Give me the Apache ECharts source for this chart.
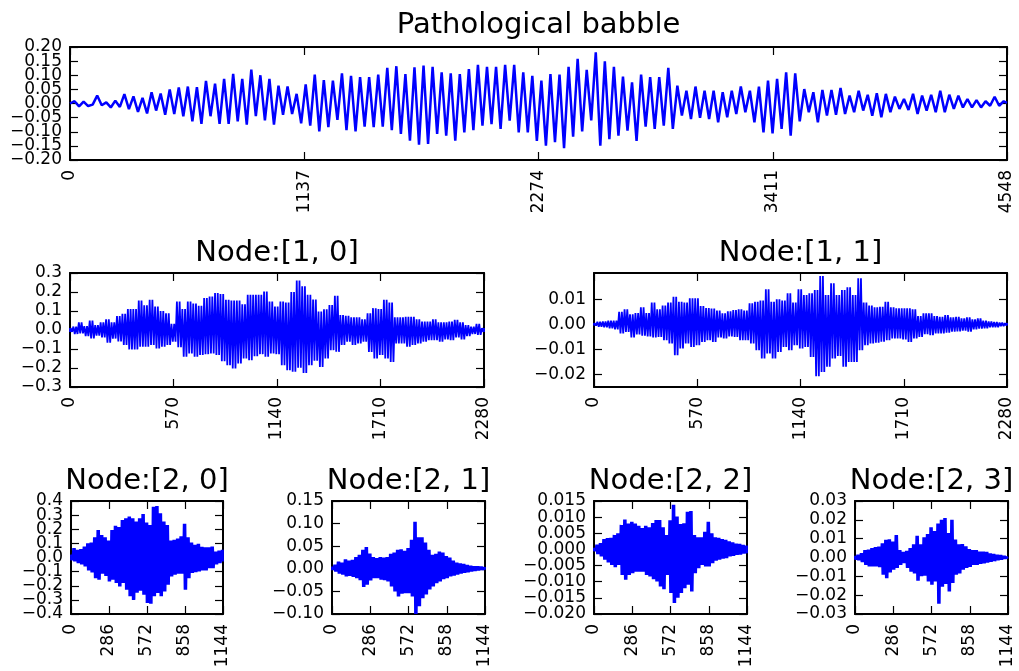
<!DOCTYPE html>
<html>
<head>
<meta charset="utf-8">
<script src="https://cdn.jsdelivr.net/npm/echarts@6/dist/echarts.min.js"></script>
<style>
  html, body { margin: 0; padding: 0; background: #fff; }
  #chart { width: 1019px; height: 671px; }
</style>
</head>
<body>
<div id="chart"></div>
<script>
// ---- data ----
var titles = ['Pathological babble', 'Node:[1, 0]', 'Node:[1, 1]',
              'Node:[2, 0]', 'Node:[2, 1]', 'Node:[2, 2]', 'Node:[2, 3]'];
var lengths = [4548, 2280, 2280, 1144, 1144, 1144, 1144];

// top signal: successive peaks / troughs, one every 22 samples
var babbleStep = 22;
var babble = [
  0.000, 0.008, -0.010, 0.007, -0.009, -0.004, 0.028, -0.006, 0.004, -0.014, 0.010, -0.012,
  0.033, -0.020, 0.025, -0.030, 0.020, -0.035, 0.040, -0.025, 0.035, -0.040,
  0.050, -0.037, 0.057, -0.045, 0.060, -0.063, 0.058, -0.072, 0.080, -0.045, 0.070, -0.072,
  0.087, -0.072, 0.105, -0.063, 0.087, -0.075, 0.120, -0.045, 0.100, -0.060, 0.087, -0.075,
  0.063, -0.040, 0.060, -0.037, 0.034, -0.070,
  0.068, -0.078, 0.102, -0.099, 0.083, -0.084, 0.081, -0.058, 0.107, -0.094, 0.098, -0.099,
  0.093, -0.082, 0.093, -0.084, 0.102, -0.082, 0.126, -0.094, 0.132, -0.108, 0.104, -0.132,
  0.128, -0.146, 0.134, -0.143, 0.130, -0.108, 0.110, -0.114, 0.107, -0.132, 0.104, -0.102,
  0.122, -0.094, 0.137, -0.078, 0.130, -0.073, 0.130, -0.090, 0.137, -0.061, 0.137, -0.102,
  0.110, -0.102, 0.098, -0.132,
  0.081, -0.149, 0.104, -0.137, 0.102, -0.158, 0.130, -0.117, 0.158, -0.099, 0.119, -0.060,
  0.181, -0.149, 0.149, -0.126, 0.130, -0.114,
  0.095, -0.096, 0.075, -0.132, 0.102, -0.082, 0.093, -0.090, 0.093, -0.078, 0.126, -0.090,
  0.063, -0.043, 0.045, -0.055, 0.060, -0.051, 0.045, -0.055, 0.045, -0.067, 0.040, -0.049,
  0.045, -0.037, 0.060, -0.031, 0.045, -0.067, 0.060, -0.102, 0.081, -0.106, 0.087,
  -0.090, 0.110, -0.114, 0.107, -0.063, 0.051, -0.031, 0.040, -0.067, 0.048, -0.043, 0.048,
  -0.040, 0.055, -0.037, 0.028, -0.031, 0.045, -0.025, 0.031, -0.043, 0.036, -0.049, 0.034,
  -0.031, 0.024, -0.019, 0.016, -0.023, 0.034, -0.037, 0.028, -0.025, 0.031, -0.031, 0.045,
  -0.031, 0.031, -0.019, 0.028, -0.014, 0.016, -0.014, 0.012, -0.014, 0.008, -0.008, 0.024,
  -0.008, 0.008, 0.002
];

// level 1 nodes: upper / lower envelope, one bin every 30 samples
var node10Hi = [0.010, 0.018, 0.040, 0.020, 0.050, 0.026, 0.040, 0.056, 0.040, 0.074, 0.085, 0.110,
  0.110, 0.155, 0.130, 0.159, 0.123, 0.100, 0.088, 0.032, 0.150, 0.110, 0.150, 0.140, 0.127, 0.168,
  0.176, 0.194, 0.190, 0.159, 0.155, 0.155, 0.135, 0.185, 0.185, 0.185, 0.203, 0.150, 0.123, 0.150,
  0.145, 0.200, 0.260, 0.230, 0.185, 0.160, 0.097, 0.109, 0.132, 0.180, 0.079, 0.075, 0.067, 0.067,
  0.056, 0.088, 0.115, 0.110, 0.159, 0.145, 0.067, 0.067, 0.070, 0.070, 0.056, 0.044, 0.044, 0.056,
  0.040, 0.040, 0.044, 0.053, 0.040, 0.026, 0.018, 0.032, 0.010];
var node10Lo = [-0.010, -0.021, -0.018, -0.032, -0.044, -0.030, -0.039, -0.067, -0.045, -0.060, -0.079,
  -0.102, -0.102, -0.088, -0.088, -0.079, -0.097, -0.088, -0.079, -0.062, -0.090, -0.141, -0.123, -0.141,
  -0.132, -0.127, -0.123, -0.132, -0.164, -0.185, -0.203, -0.176, -0.150, -0.159, -0.138, -0.127, -0.141,
  -0.123, -0.127, -0.185, -0.212, -0.220, -0.198, -0.226, -0.185, -0.162, -0.194, -0.150, -0.106, -0.115,
  -0.079, -0.062, -0.079, -0.071, -0.062, -0.115, -0.150, -0.132, -0.150, -0.168, -0.071, -0.071, -0.088,
  -0.079, -0.071, -0.062, -0.053, -0.053, -0.062, -0.050, -0.053, -0.039, -0.050, -0.032, -0.021, -0.026,
  -0.010];
var node11Hi = [0.0005, 0.0010, 0.0012, 0.0015, 0.0015, 0.0050, 0.0060, 0.0040, 0.0045, 0.0068, 0.0045,
  0.0087, 0.0060, 0.0075, 0.0087, 0.0110, 0.0090, 0.0087, 0.0104, 0.0104, 0.0073, 0.0065, 0.0063, 0.0055,
  0.0044, 0.0052, 0.0057, 0.0060, 0.0055, 0.0084, 0.0090, 0.0095, 0.0140, 0.0090, 0.0100, 0.0095, 0.0124,
  0.0087, 0.0140, 0.0117, 0.0124, 0.0137, 0.0193, 0.0117, 0.0164, 0.0117, 0.0137, 0.0148, 0.0117, 0.0184,
  0.0087, 0.0075, 0.0068, 0.0070, 0.0090, 0.0068, 0.0064, 0.0064, 0.0064, 0.0060, 0.0033, 0.0044, 0.0044,
  0.0033, 0.0030, 0.0037, 0.0028, 0.0030, 0.0024, 0.0028, 0.0020, 0.0024, 0.0015, 0.0012, 0.0010, 0.0007,
  0.0005];
var node11Lo = [-0.0005, -0.0010, -0.0012, -0.0016, -0.0020, -0.0036, -0.0030, -0.0052, -0.0040, -0.0045,
  -0.0048, -0.0052, -0.0050, -0.0063, -0.0076, -0.0123, -0.0096, -0.0076, -0.0090, -0.0083, -0.0070,
  -0.0063, -0.0070, -0.0052, -0.0056, -0.0048, -0.0050, -0.0063, -0.0063, -0.0076, -0.0103, -0.0136,
  -0.0116, -0.0136, -0.0110, -0.0090, -0.0103, -0.0083, -0.0096, -0.0090, -0.0130, -0.0207, -0.0190,
  -0.0169, -0.0136, -0.0126, -0.0169, -0.0150, -0.0150, -0.0103, -0.0083, -0.0076, -0.0073, -0.0069,
  -0.0063, -0.0056, -0.0056, -0.0060, -0.0070, -0.0056, -0.0050, -0.0039, -0.0043, -0.0036, -0.0036,
  -0.0033, -0.0029, -0.0028, -0.0025, -0.0029, -0.0020, -0.0017, -0.0016, -0.0012, -0.0012, -0.0007,
  -0.0005];

// level 2 nodes: upper / lower envelope, one bin every 26 samples
var node20Hi = [0.020, 0.066, 0.055, 0.060, 0.078, 0.100, 0.106, 0.144, 0.195, 0.160, 0.144, 0.120, 0.195,
  0.224, 0.215, 0.266, 0.278, 0.290, 0.278, 0.254, 0.278, 0.308, 0.247, 0.230, 0.360, 0.365, 0.313, 0.254,
  0.230, 0.120, 0.125, 0.135, 0.150, 0.238, 0.144, 0.106, 0.090, 0.097, 0.075, 0.073, 0.073, 0.078, 0.042,
  0.050, 0.054];
var node20Lo = [-0.020, -0.028, -0.040, -0.050, -0.064, -0.092, -0.106, -0.146, -0.158, -0.115, -0.130,
  -0.170, -0.158, -0.181, -0.205, -0.181, -0.228, -0.275, -0.300, -0.250, -0.235, -0.264, -0.322, -0.327,
  -0.275, -0.252, -0.275, -0.240, -0.193, -0.134, -0.122, -0.115, -0.115, -0.228, -0.146, -0.110, -0.104,
  -0.099, -0.092, -0.092, -0.075, -0.075, -0.050, -0.040, -0.028];
var node21Hi = [0.005, 0.009, 0.016, 0.014, 0.021, 0.018, 0.020, 0.026, 0.031, 0.042, 0.048, 0.034, 0.026,
  0.024, 0.026, 0.025, 0.026, 0.033, 0.036, 0.042, 0.043, 0.040, 0.046, 0.064, 0.104, 0.070, 0.070, 0.058,
  0.042, 0.031, 0.033, 0.038, 0.036, 0.028, 0.025, 0.018, 0.014, 0.012, 0.011, 0.009, 0.007, 0.006, 0.006,
  0.005, 0.004];
var node21Lo = [-0.003, -0.006, -0.011, -0.013, -0.017, -0.016, -0.018, -0.021, -0.025, -0.040, -0.035,
  -0.026, -0.021, -0.021, -0.024, -0.025, -0.028, -0.039, -0.050, -0.061, -0.055, -0.054, -0.054, -0.061,
  -0.100, -0.083, -0.065, -0.057, -0.046, -0.039, -0.032, -0.028, -0.023, -0.021, -0.017, -0.015, -0.013,
  -0.011, -0.009, -0.008, -0.006, -0.005, -0.004, -0.003, -0.002];
var node22Hi = [0.0005, 0.0015, 0.0020, 0.0032, 0.0035, 0.0036, 0.0045, 0.0050, 0.0076, 0.0093, 0.0080,
  0.0086, 0.0080, 0.0073, 0.0066, 0.0073, 0.0069, 0.0082, 0.0091, 0.0091, 0.0069, 0.0045, 0.0090, 0.0138,
  0.0102, 0.0079, 0.0081, 0.0117, 0.0119, 0.0045, 0.0038, 0.0038, 0.0055, 0.0086, 0.0050, 0.0038, 0.0036,
  0.0032, 0.0030, 0.0025, 0.0022, 0.0018, 0.0017, 0.0014, 0.0012];
var node22Lo = [-0.0006, -0.0015, -0.0022, -0.0032, -0.0040, -0.0048, -0.0055, -0.0048, -0.0079, -0.0094,
  -0.0079, -0.0074, -0.0069, -0.0069, -0.0069, -0.0079, -0.0084, -0.0092, -0.0099, -0.0115, -0.0123,
  -0.0079, -0.0135, -0.0166, -0.0150, -0.0135, -0.0120, -0.0109, -0.0130, -0.0074, -0.0058, -0.0048,
  -0.0053, -0.0053, -0.0043, -0.0035, -0.0032, -0.0029, -0.0027, -0.0022, -0.0020, -0.0017, -0.0016,
  -0.0013, -0.0012];
var node23Hi = [0.0009, 0.0015, 0.0023, 0.0040, 0.0042, 0.0050, 0.0055, 0.0058, 0.0076, 0.0094, 0.0097,
  0.0085, 0.0120, 0.0040, 0.0030, 0.0035, 0.0050, 0.0070, 0.0115, 0.0070, 0.0108, 0.0125, 0.0160, 0.0140,
  0.0180, 0.0200, 0.0210, 0.0130, 0.0200, 0.0095, 0.0070, 0.0072, 0.0060, 0.0045, 0.0040, 0.0040, 0.0032,
  0.0032, 0.0030, 0.0022, 0.0020, 0.0015, 0.0014, 0.0010, 0.0005];
var node23Lo = [-0.0012, -0.0015, -0.0025, -0.0039, -0.0048, -0.0048, -0.0048, -0.0051, -0.0092, -0.0110,
  -0.0080, -0.0065, -0.0056, -0.0040, -0.0030, -0.0056, -0.0075, -0.0085, -0.0124, -0.0100, -0.0097,
  -0.0127, -0.0145, -0.0127, -0.0245, -0.0155, -0.0140, -0.0180, -0.0135, -0.0092, -0.0085, -0.0065,
  -0.0055, -0.0050, -0.0040, -0.0039, -0.0034, -0.0032, -0.0027, -0.0023, -0.0020, -0.0015, -0.0012,
  -0.0008, -0.0005];

// y axis range and tick values per panel
var yRanges = [[-0.2, 0.2], [-0.3, 0.3], [-0.025, 0.0205], [-0.4, 0.4], [-0.1, 0.15], [-0.02, 0.015], [-0.03, 0.03]];
var yTicks = [
  [-0.2, -0.15, -0.1, -0.05, 0, 0.05, 0.1, 0.15, 0.2],
  [-0.3, -0.2, -0.1, 0, 0.1, 0.2, 0.3],
  [-0.02, -0.01, 0, 0.01],
  [-0.4, -0.3, -0.2, -0.1, 0, 0.1, 0.2, 0.3, 0.4],
  [-0.1, -0.05, 0, 0.05, 0.1, 0.15],
  [-0.02, -0.015, -0.01, -0.005, 0, 0.005, 0.01, 0.015],
  [-0.03, -0.02, -0.01, 0, 0.01, 0.02, 0.03]
];
var yDigits = [2, 1, 2, 1, 2, 3, 2];

// ---- layout ----
var boxes = [
  [70, 47, 937, 113],
  [70, 273, 414, 114],
  [594, 273, 413, 114],
  [71, 501, 152, 113],
  [332, 501, 153, 113],
  [594, 501, 153, 113],
  [855, 501, 153, 113]
];
var titleY = [25, 253, 253, 481, 481, 481, 481];

var FONT = 'DejaVu Sans';

function wave(values, step, len) {
  return values.map(function (v, i) { return [Math.min(i * step, len), v]; });
}
// each envelope bin is drawn as two up/down strokes so the body fills in
function band(hi, lo, step, len) {
  var out = [];
  hi.forEach(function (h, i) {
    var x0 = i * step - step / 2;
    [h, lo[i], h, lo[i]].forEach(function (v, k) {
      var x = x0 + (k + 0.5) * step / 4;
      out.push([Math.max(0, Math.min(len, x)), v]);
    });
  });
  return out;
}

var seriesData = [
  wave(babble, babbleStep, 4548),
  band(node10Hi, node10Lo, 30, 2280),
  band(node11Hi, node11Lo, 30, 2280),
  band(node20Hi, node20Lo, 26, 1144),
  band(node21Hi, node21Lo, 26, 1144),
  band(node22Hi, node22Lo, 26, 1144),
  band(node23Hi, node23Lo, 26, 1144)
];

var lineStyle = { color: '#000', width: 2 };
var tickStyle = { color: '#000', width: 1.2 };

var grids = [], xAxes = [], yAxes = [], series = [], graphics = [];
boxes.forEach(function (b, g) {
  var len = lengths[g];
  var xTicks = [0, len / 4, len / 2, len * 3 / 4, len];
  grids.push({ left: b[0], top: b[1], width: b[2], height: b[3], outerBoundsMode: 'none', containLabel: false });
  [['bottom', true], ['top', false]].forEach(function (p) {
    xAxes.push({
      gridIndex: g, type: 'value', position: p[0], min: 0, max: len,
      axisLine: { show: true, onZero: false, lineStyle: lineStyle },
      axisTick: { show: true, inside: true, length: 8, lineStyle: tickStyle, customValues: xTicks },
      axisLabel: {
        show: p[1], rotate: 90, margin: 10, color: '#000', fontFamily: FONT, fontSize: 17,
        customValues: xTicks, showMinLabel: true, showMaxLabel: true, hideOverlap: false,
        formatter: function (v) { return String(Math.round(v)); }
      },
      splitLine: { show: false }
    });
  });
  // left axis carrying the data + even labels, a second left axis for odd labels
  // (crowded labels would otherwise be dropped), and a right axis for ticks only
  var evenT = yTicks[g].filter(function (v, i) { return i % 2 === 0; });
  var oddT = yTicks[g].filter(function (v, i) { return i % 2 === 1; });
  [['left', evenT, true], ['right', yTicks[g], false], ['left', oddT, true]].forEach(function (p, k) {
    yAxes.push({
      gridIndex: g, type: 'value', position: p[0], offset: 0,
      min: yRanges[g][0], max: yRanges[g][1],
      axisLine: { show: k < 2, onZero: false, lineStyle: lineStyle },
      axisTick: { show: k < 2, inside: true, length: 8, lineStyle: tickStyle, customValues: yTicks[g] },
      axisLabel: {
        show: p[2], margin: 8, color: '#000', fontFamily: FONT, fontSize: 17,
        customValues: p[1], showMinLabel: true, showMaxLabel: true, hideOverlap: false,
        formatter: function (v) {
          if (Math.abs(v) < 1e-9) v = 0;
          return v.toFixed(yDigits[g]).replace('-', '\u2212');
        }
      },
      splitLine: { show: false }
    });
  });
  series.push({
    type: 'line', xAxisIndex: g * 2, yAxisIndex: g * 3, data: seriesData[g],
    showSymbol: false, symbol: 'none', silent: true, animation: false,
    lineStyle: { color: '#0000ff', width: g === 0 ? 2.5 : 1.8 }
  });
  graphics.push({
    type: 'text', x: b[0] + b[2] / 2, y: titleY[g],
    style: {
      text: titles[g], fontFamily: FONT, fontSize: 29, fill: '#000',
      textAlign: 'center', verticalAlign: 'middle', textVerticalAlign: 'middle'
    }
  });
});

var chart = echarts.init(document.getElementById('chart'), null, { renderer: 'canvas' });
chart.setOption({
  animation: false,
  backgroundColor: '#fff',
  grid: grids,
  xAxis: xAxes,
  yAxis: yAxes,
  series: series,
  graphic: graphics
});
window.addEventListener('resize', function () { chart.resize(); });
</script>
</body>
</html>
